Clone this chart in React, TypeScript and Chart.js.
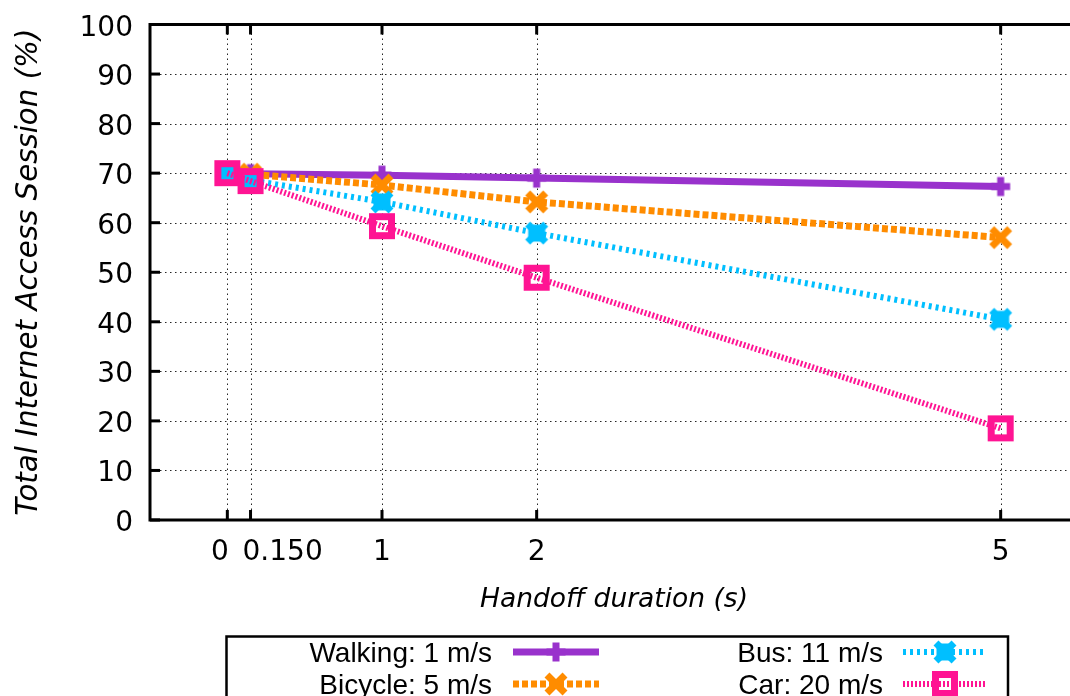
import React, { useEffect, useRef } from "react";
import { Chart, registerables } from "chart.js";

Chart.register(...registerables);

const xValues = [0, 0.15, 1, 2, 5];
const xTickValues = [0, 0.15, 1, 2, 5];
const xTickLabels = ["0", "0.150", "1", "2", "5"];
const yTickValues = [0, 10, 20, 30, 40, 50, 60, 70, 80, 90, 100];

const walking = [70, 69.9, 69.6, 69.0, 67.3];
const bicycle = [70, 69.8, 67.6, 64.2, 57.0];
const bus = [70, 68.6, 64.2, 57.9, 40.5];
const car = [70, 68.4, 59.3, 48.9, 18.5];

const seriesNames = ["Walking: 1 m/s", "Bicycle: 5 m/s", "Bus: 11 m/s", "Car: 20 m/s"];
const colors = ["#9932CC", "#FF8C00", "#00BFFF", "#FF1493"];

const xTitle = "Handoff duration (s)";
const yTitle = "Total Internet Access Session (%)";

function makeMarker(kind: string, color: string): HTMLCanvasElement {
  const size = 30;
  const c = document.createElement("canvas");
  c.width = size;
  c.height = size;
  const ctx = c.getContext("2d")!;
  const m = size / 2;
  ctx.fillStyle = color;
  ctx.strokeStyle = color;
  if (kind === "plus") {
    ctx.fillRect(m - 9.5, m - 3.5, 19, 7);
    ctx.fillRect(m - 3.5, m - 9.5, 7, 19);
  } else if (kind === "x") {
    ctx.lineWidth = 7;
    ctx.beginPath();
    ctx.moveTo(m - 9, m - 9);
    ctx.lineTo(m + 9, m + 9);
    ctx.moveTo(m + 9, m - 9);
    ctx.lineTo(m - 9, m + 9);
    ctx.stroke();
  } else if (kind === "blob") {
    ctx.fillRect(m - 8.5, m - 8.5, 17, 17);
    ctx.lineWidth = 7;
    ctx.beginPath();
    ctx.moveTo(m - 9, m - 9);
    ctx.lineTo(m + 9, m + 9);
    ctx.moveTo(m + 9, m - 9);
    ctx.lineTo(m - 9, m + 9);
    ctx.stroke();
  } else if (kind === "ring") {
    ctx.fillRect(m - 13, m - 13, 26, 26);
    ctx.clearRect(m - 6, m - 6, 12, 12);
  }
  return c;
}

export default function App() {
  const ref = useRef<HTMLCanvasElement | null>(null);

  useEffect(() => {
    const canvas = ref.current!;
    const markers = [
      makeMarker("plus", colors[0]),
      makeMarker("x", colors[1]),
      makeMarker("blob", colors[2]),
      makeMarker("ring", colors[3]),
    ];
    const widths = [7, 7, 6, 6];
    const dashes: number[][] = [[], [6, 3], [3, 4], [2, 2]];
    const data = [walking, bicycle, bus, car];

    const datasets = data.map((vals, i) => ({
      label: seriesNames[i],
      data: vals.map((v, j) => ({ x: xValues[j], y: v })),
      borderColor: colors[i],
      backgroundColor: colors[i],
      borderWidth: widths[i],
      borderDash: dashes[i],
      pointStyle: markers[i],
      pointRadius: 10,
      tension: 0,
      order: 4 - i,
    }));

    const frame = {
      id: "frame",
      beforeDatasetsDraw(chart: any) {
        const ctx = chart.ctx;
        const a = chart.chartArea;
        const xs = chart.scales.x;
        const ys = chart.scales.y;
        ctx.save();
        ctx.strokeStyle = "rgba(0,0,0,0.85)";
        ctx.lineWidth = 1;
        ctx.setLineDash([1.5, 3.5]);
        yTickValues.forEach((v) => {
          if (v === 0 || v === 100) return;
          const y = Math.round(ys.getPixelForValue(v)) + 0.5;
          ctx.beginPath();
          ctx.moveTo(a.left, y);
          ctx.lineTo(a.right, y);
          ctx.stroke();
        });
        xTickValues.forEach((v) => {
          const x = Math.round(xs.getPixelForValue(v)) + 0.5;
          ctx.beginPath();
          ctx.moveTo(x, a.bottom);
          ctx.lineTo(x, a.top);
          ctx.stroke();
        });
        ctx.restore();
      },
      afterDraw(chart: any) {
        const ctx = chart.ctx;
        const a = chart.chartArea;
        const xs = chart.scales.x;
        const ys = chart.scales.y;
        ctx.save();
        ctx.setLineDash([]);
        ctx.strokeStyle = "#000";
        ctx.lineWidth = 3;
        ctx.beginPath();
        ctx.moveTo(a.right, a.top);
        ctx.lineTo(a.left, a.top);
        ctx.lineTo(a.left, a.bottom);
        ctx.lineTo(a.right, a.bottom);
        ctx.stroke();
        yTickValues.forEach((v) => {
          const y = ys.getPixelForValue(v);
          ctx.beginPath();
          ctx.moveTo(a.left, y);
          ctx.lineTo(a.left + 10, y);
          ctx.stroke();
        });
        xTickValues.forEach((v) => {
          const x = xs.getPixelForValue(v);
          ctx.beginPath();
          ctx.moveTo(x, a.bottom);
          ctx.lineTo(x, a.bottom - 10);
          ctx.moveTo(x, a.top);
          ctx.lineTo(x, a.top + 10);
          ctx.stroke();
        });

        // tick labels
        ctx.fillStyle = "#000";
        ctx.font = '28px "DejaVu Sans"';
        ctx.textBaseline = "alphabetic";
        ctx.textAlign = "right";
        yTickValues.forEach((v) => {
          ctx.fillText(String(v), a.left - 17, ys.getPixelForValue(v) + 11);
        });
        const aligns = ["right", "left", "center", "center", "center"];
        const shifts = [1.5, -8, 0, 0, 0];
        xTickValues.forEach((v, i) => {
          ctx.textAlign = aligns[i];
          ctx.fillText(xTickLabels[i], xs.getPixelForValue(v) + shifts[i], a.bottom + 40);
        });

        // titles
        ctx.textAlign = "center";
        ctx.font = 'italic 26.5px "DejaVu Sans"';
        ctx.fillText(xTitle, (a.left + a.right) / 2, 607);
        ctx.save();
        ctx.translate(37, (a.top + a.bottom) / 2);
        ctx.rotate(-Math.PI / 2);
        ctx.font = 'italic 29.3px "DejaVu Sans"';
        ctx.fillText(yTitle, 0, 0);
        ctx.restore();

        // legend
        ctx.lineWidth = 2.5;
        ctx.strokeStyle = "#000";
        ctx.strokeRect(226.5, 636.5, 781.5, 120);
        const cols = [
          { textRight: 492, s0: 513, s1: 599 },
          { textRight: 883, s0: 903, s1: 987 },
        ];
        const rows = [652, 684];
        ctx.font = '28px "Liberation Sans"';
        ctx.textAlign = "right";
        for (let i = 0; i < 4; i++) {
          const col = cols[Math.floor(i / 2)];
          const cy = rows[i % 2];
          ctx.fillStyle = "#000";
          ctx.fillText(seriesNames[i], col.textRight, cy + 10);
          ctx.strokeStyle = colors[i];
          ctx.lineWidth = widths[i];
          ctx.setLineDash(dashes[i]);
          ctx.beginPath();
          ctx.moveTo(col.s0, cy);
          ctx.lineTo(col.s1, cy);
          ctx.stroke();
          ctx.setLineDash([]);
          const mk = markers[i];
          const mx = (col.s0 + col.s1) / 2;
          ctx.drawImage(mk, mx - mk.width / 2, cy - mk.height / 2);
        }
        ctx.restore();
      },
    };

    const chart = new Chart(canvas, {
      type: "line",
      data: { datasets: datasets as any },
      options: {
        responsive: false,
        animation: false,
        events: [],
        layout: { autoPadding: false, padding: { left: 0, top: 24.5, right: 12, bottom: 0 } },
        plugins: { legend: { display: false }, tooltip: { enabled: false } },
        scales: {
          x: {
            type: "linear",
            min: -0.5,
            max: 5.5,
            afterBuildTicks: (s: any) => {
              s.ticks = xTickValues.map((v) => ({ value: v }));
            },
            afterFit: (s: any) => {
              s.height = 176;
              s.paddingLeft = 0;
              s.paddingRight = 0;
            },
            grid: { display: false },
            border: { display: false },
            ticks: {
              display: false,
              autoSkip: false,
              maxRotation: 0,
              callback: (_v: any, i: number) => xTickLabels[i],
            },
          },
          y: {
            type: "linear",
            min: 0,
            max: 100,
            afterBuildTicks: (s: any) => {
              s.ticks = yTickValues.map((v) => ({ value: v }));
            },
            afterFit: (s: any) => {
              s.width = 150;
              s.paddingTop = 0;
              s.paddingBottom = 0;
            },
            grid: { display: false },
            border: { display: false },
            ticks: {
              display: false,
              callback: (v: any) => String(v),
            },
          },
        },
      },
      plugins: [frame],
    });
    return () => chart.destroy();
  }, []);

  return (
    <div
      style={{
        position: "fixed",
        left: 0,
        top: 0,
        width: 1070,
        height: 696,
        overflow: "hidden",
        background: "#fff",
      }}
    >
      <canvas ref={ref} width={1090} height={696} style={{ display: "block" }} />
    </div>
  );
}
